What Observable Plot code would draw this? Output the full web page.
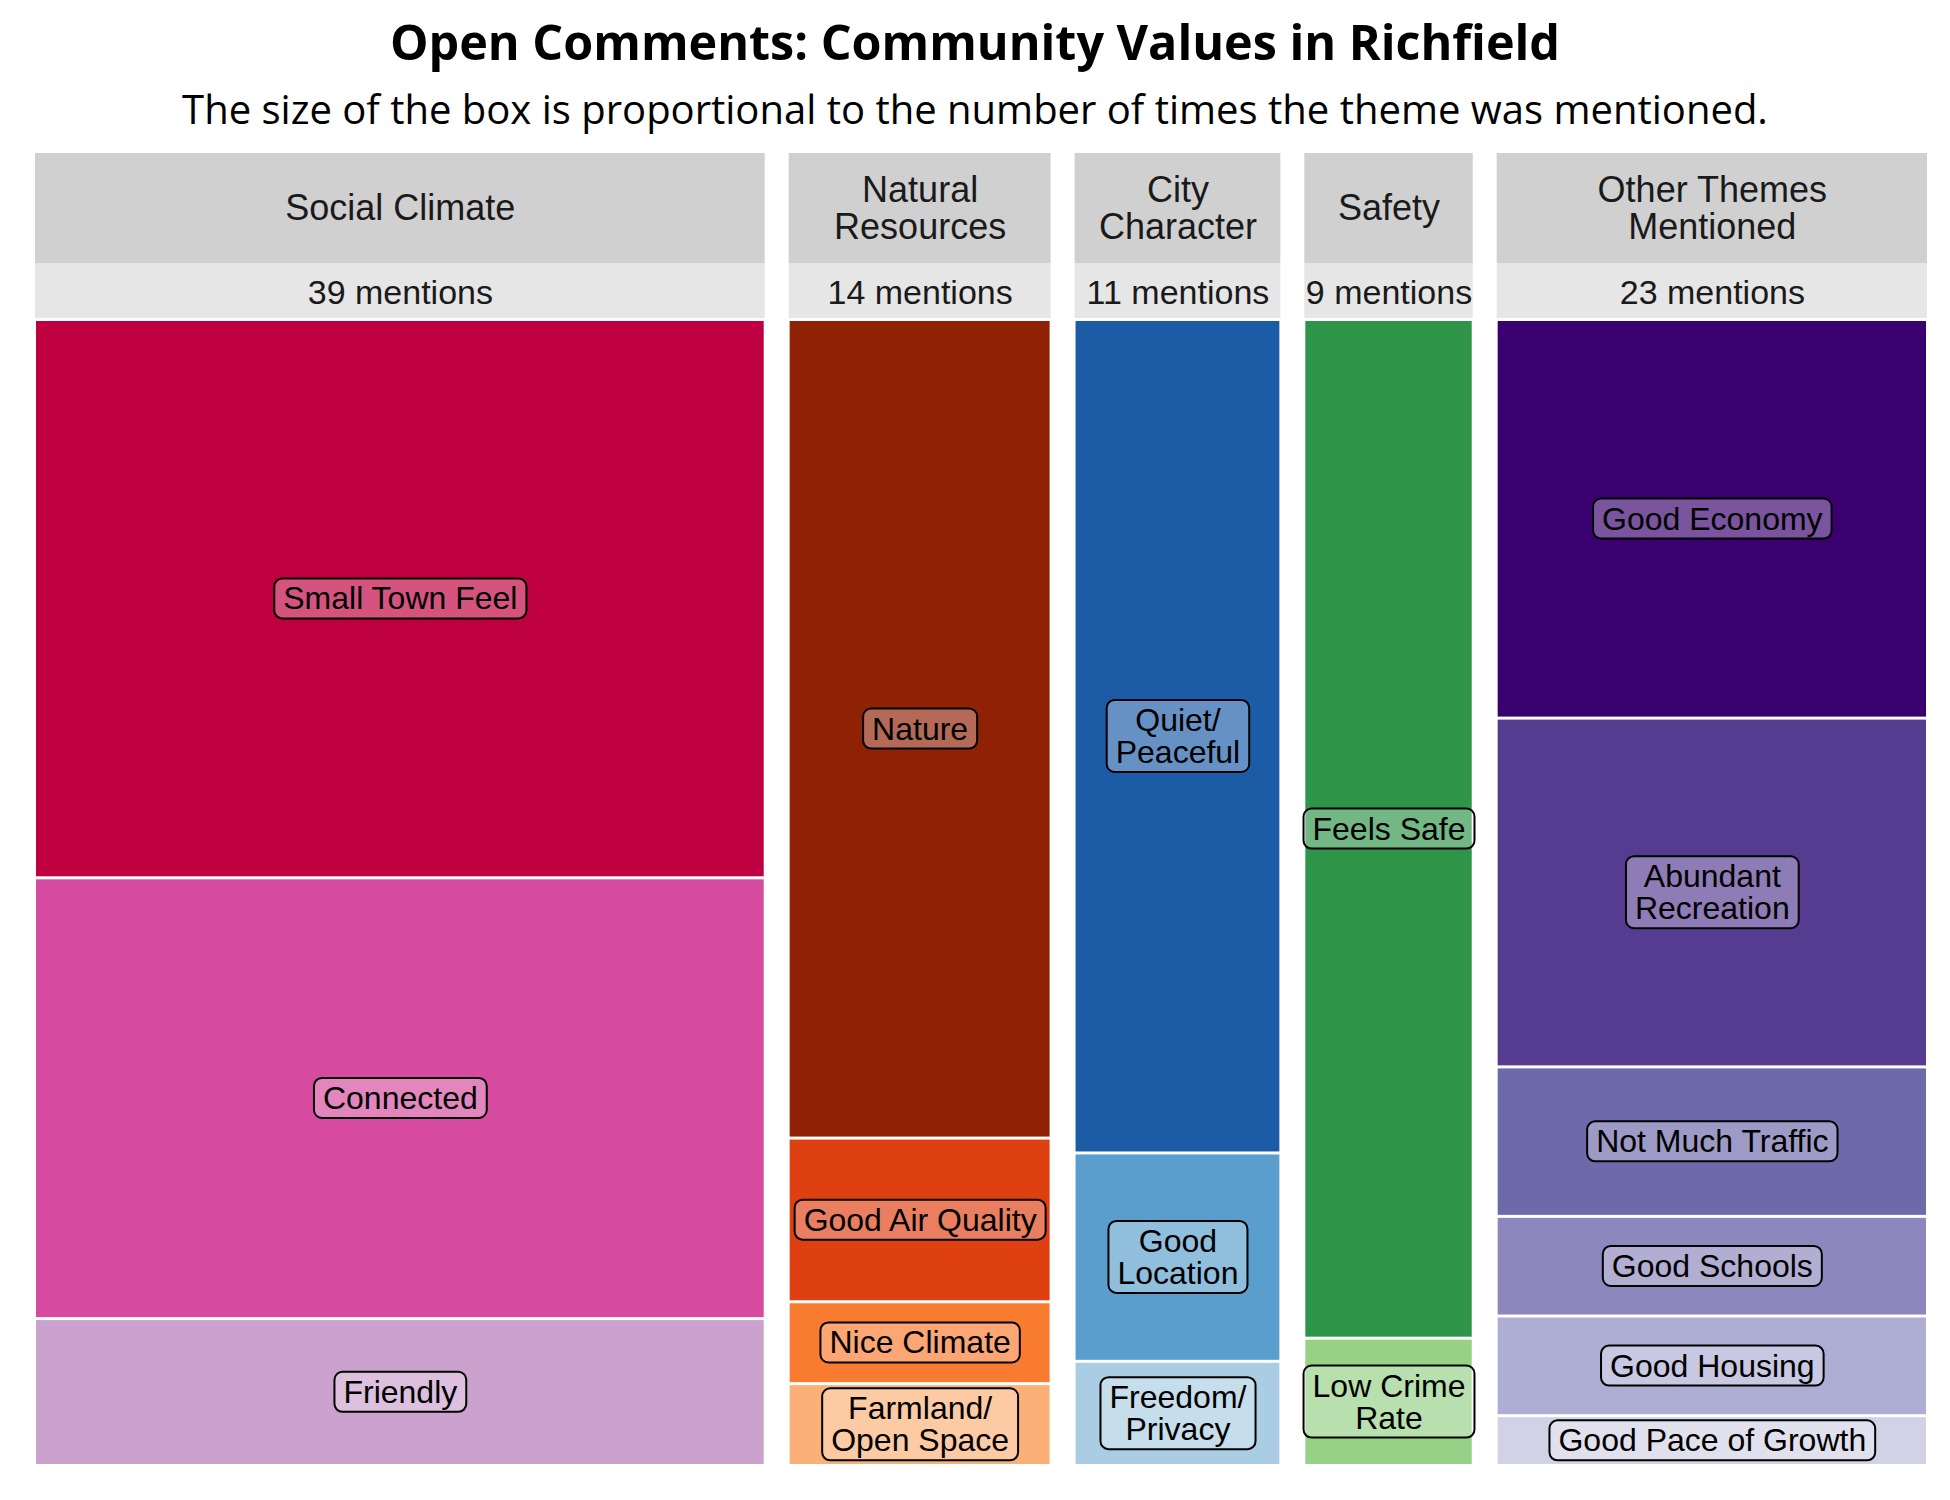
<!DOCTYPE html>
<html>
<head>
<meta charset="utf-8">
<script src="https://cdn.jsdelivr.net/npm/d3@7"></script>
<script src="https://cdn.jsdelivr.net/npm/@observablehq/plot@0.6"></script>
<style>
  body { margin: 0; background: #fff; width: 1950px; }
  #title { font-family: "Open Sans", sans-serif; font-weight: 700; font-size: 48.5px; text-align: center; height: 82px; line-height: 82px; color: #000; }
  #subtitle { font-family: "Open Sans", sans-serif; font-weight: 400; font-size: 40px; text-align: center; height: 53px; line-height: 53px; color: #000; }
  #chart svg { display: block; }
</style>
</head>
<body>
<div id="title">Open Comments: Community Values in Richfield</div>
<div id="subtitle">The size of the box is proportional to the number of times the theme was mentioned.</div>
<div id="chart"></div>
<script>
// ---- Data ----
const themes = ["Social Climate", "Natural\nResources", "City\nCharacter", "Safety", "Other Themes\nMentioned"];
const themeTotals = [39, 14, 11, 9, 23];

const socialLabels = ["Small Town Feel", "Connected", "Friendly"];
const socialCounts = [19, 15, 5];
const socialColors = ["#bf0040", "#d64b9f", "#cba1cd"];

const naturalLabels = ["Nature", "Good Air Quality", "Nice Climate", "Farmland/\nOpen Space"];
const naturalCounts = [10, 2, 1, 1];
const naturalColors = ["#8f2104", "#df4012", "#f97b30", "#fbb077"];

const cityLabels = ["Quiet/\nPeaceful", "Good\nLocation", "Freedom/\nPrivacy"];
const cityCounts = [8, 2, 1];
const cityColors = ["#1c5ca7", "#5a9ecd", "#abcde3"];

const safetyLabels = ["Feels Safe", "Low Crime\nRate"];
const safetyCounts = [8, 1];
const safetyColors = ["#2d9448", "#96d186"];

const otherLabels = ["Good Economy", "Abundant\nRecreation", "Not Much Traffic", "Good Schools", "Good Housing", "Good Pace of Growth"];
const otherCounts = [8, 7, 3, 2, 2, 1];
const otherColors = ["#3a006f", "#553c91", "#6e6aaa", "#8d87bd", "#aeaed4", "#d2d2e6"];

// ---- Build tables ----
const groups = [
  {labels: socialLabels, counts: socialCounts, colors: socialColors},
  {labels: naturalLabels, counts: naturalCounts, colors: naturalColors},
  {labels: cityLabels, counts: cityCounts, colors: cityColors},
  {labels: safetyLabels, counts: safetyCounts, colors: safetyColors},
  {labels: otherLabels, counts: otherCounts, colors: otherColors}
];

const GAP = 1.28; // gap between columns, in mention units
let cursor = 0;
const columns = themes.map((t, i) => {
  const x1 = cursor, x2 = cursor + themeTotals[i];
  cursor = x2 + GAP;
  return {theme: t, total: themeTotals[i], x1, x2};
});
const xMax = cursor - GAP;

const cells = [];
groups.forEach((g, i) => {
  const total = d3.sum(g.counts);
  let acc = 0;
  g.labels.forEach((label, j) => {
    cells.push({label, count: g.counts[j], fill: g.colors[j], x1: columns[i].x1, x2: columns[i].x2, y1: acc / total, y2: (acc + g.counts[j]) / total});
    acc += g.counts[j];
  });
});

// header bands (in y-scale units, above the 0..1 cell area)
const PX = 1 / 1146;
const headTop = (18 - 184.5) * PX, headBot = (128 - 184.5) * PX;
const cntTop = headBot, cntBot = (183 - 184.5) * PX;
const font = "'Liberation Sans', Arial, sans-serif";

const svg = Plot.plot({
  width: 1950,
  height: 1365,
  margin: 0,
  style: {fontFamily: font, background: "white"},
  x: {domain: [0, xMax], range: [35, 1927], axis: null},
  y: {domain: [0, 1], range: [184.5, 1330.5], axis: null},
  color: {type: "identity"},
  marks: [
    Plot.rect(columns, {x1: "x1", x2: "x2", y1: () => headTop, y2: () => headBot, fill: "#d0d0d0"}),
    Plot.rect(columns, {x1: "x1", x2: "x2", y1: () => cntTop, y2: () => cntBot, fill: "#e6e6e6"}),
    Plot.text(columns, {x: d => (d.x1 + d.x2) / 2, y: () => (headTop + headBot) / 2, text: "theme", fontSize: 36, lineHeight: 1.03, fill: "#1a1a1a", fontFamily: font}),
    Plot.text(columns, {x: d => (d.x1 + d.x2) / 2, y: () => (cntTop + cntBot) / 2 + 2 * PX, text: d => `${d.total} mentions`, fontSize: 34, fill: "#1a1a1a", fontFamily: font}),
    Plot.rect(cells, {x1: "x1", x2: "x2", y1: "y1", y2: "y2", fill: "fill", insetTop: 1.5, insetBottom: 1.5, insetLeft: 1, insetRight: 1}),
    Plot.text(cells, {x: d => (d.x1 + d.x2) / 2, y: d => (d.y1 + d.y2) / 2, text: "label", fontSize: 32, lineHeight: 1, fill: "black", fontFamily: font})
  ]
});

document.getElementById("chart").append(svg);

// rounded label boxes behind each cell label (last text mark group)
const ns = "http://www.w3.org/2000/svg";
const textGroups = svg.querySelectorAll('g[aria-label="text"]');
const labelGroup = textGroups[textGroups.length - 1];
labelGroup.querySelectorAll('text').forEach(t => {
  const b = t.getBBox();
  const r = document.createElementNS(ns, "rect");
  r.setAttribute("x", b.x - 9);
  r.setAttribute("y", b.y - 2);
  r.setAttribute("width", b.width + 18);
  r.setAttribute("height", b.height + 4);
  r.setAttribute("rx", 8);
  r.setAttribute("fill", "white");
  r.setAttribute("fill-opacity", 0.33);
  r.setAttribute("stroke", "black");
  r.setAttribute("stroke-width", 2);
  const tr = t.getAttribute("transform");
  if (tr) r.setAttribute("transform", tr);
  t.parentNode.insertBefore(r, t);
});
</script>
</body>
</html>
